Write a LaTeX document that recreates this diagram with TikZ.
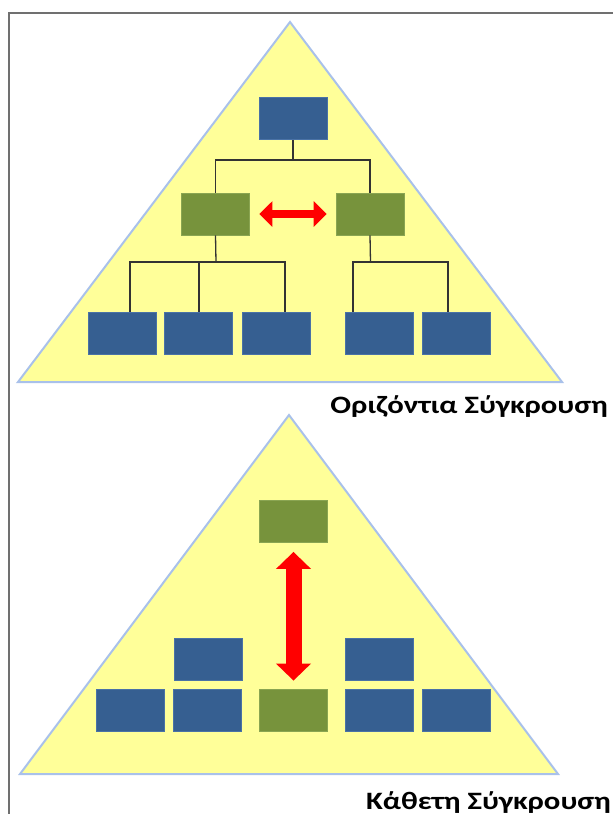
\documentclass[tikz,border=0pt]{standalone}
\usepackage{fontspec}
\setmainfont{Carlito}
\usetikzlibrary{arrows.meta}
\definecolor{pyell}{HTML}{FFFF99}
\definecolor{pedge}{HTML}{A9C1EA}
\definecolor{bblue}{HTML}{365F91}
\definecolor{bblueE}{HTML}{4A72A6}
\definecolor{bgreen}{HTML}{77933C}
\definecolor{bgreenE}{HTML}{8AA552}
\definecolor{frameg}{HTML}{707070}
\tikzset{
  pyr/.style={fill=pyell, draw=pedge, line width=2pt, line join=miter},
  bluebox/.style={rectangle, fill=bblue, draw=bblueE, line width=0.8pt, inner sep=0pt, minimum width=68pt, minimum height=42pt},
  greenbox/.style={rectangle, fill=bgreen, draw=bgreenE, line width=0.8pt, inner sep=0pt, minimum width=68pt, minimum height=42pt},
  link/.style={draw=black!80, line width=1.3pt},
  harrow/.style={draw=red, line width=8pt, {Triangle[width=25pt,length=13pt]}-{Triangle[width=25pt,length=13pt]}},
  varrow/.style={draw=red, line width=16pt, {Triangle[width=34pt,length=17pt]}-{Triangle[width=34pt,length=17pt]}},
  lbl/.style={anchor=base east, font=\bfseries\fontsize{25}{29}\selectfont, inner sep=0pt}
}
\begin{document}
\begin{tikzpicture}[x=1pt,y=-1pt]
\useasboundingbox (0,0) rectangle (613,814);
% frame
\draw[frameg, line width=2pt] (9,840) -- (9,13) -- (640,13);
% top pyramid
\fill[pyr] (290,22) -- (562,382) -- (18,382) -- cycle;
\node[bluebox] (top) at (293,118.5) {};
\node[greenbox] (gL) at (215.5,214) {};
\node[greenbox] (gR) at (370,214) {};
\node[bluebox] (b1) at (122,333.5) {};
\node[bluebox] (b2) at (198,333.5) {};
\node[bluebox] (b3) at (276,333.5) {};
\node[bluebox] (b4) at (379,333.5) {};
\node[bluebox] (b5) at (456,333.5) {};
\coordinate (j1) at (293,160);
\coordinate (j2) at (216,262);
\coordinate (j3) at (370.5,262);
\draw[link] (top.south) -- (j1);
\draw[link] (gL.north) |- (j1) -| (gR.north);
\draw[link] (gL.south) -- (j2);
\draw[link] ([xshift=8pt]b1.north) |- (j2) -| ([xshift=9pt]b3.north);
\draw[link] ([xshift=1pt]b2.north) -- ([xshift=1pt]b2.north |- j2);
\draw[link] (gR.south) -- (j3);
\draw[link] ([xshift=-26pt]b4.north) |- (j3) -| ([xshift=-8pt]b5.north);
\draw[harrow] ([xshift=9.5pt]gL.east) -- ([xshift=-9pt]gR.west);
\node[lbl] (l1) at (608,413) {\scalebox{1.23}[1]{Οριζόντια Σύγκρουση}};
% bottom pyramid
\fill[pyr] (289,415) -- (558,774) -- (20,774) -- cycle;
\node[greenbox] (gT) at (293.5,521.5) {};
\node[bluebox] (u1) at (208,659) {};
\node[bluebox] (u2) at (379.5,659) {};
\node[bluebox] (c1) at (130,710) {};
\node[bluebox] (c2) at (207.5,710) {};
\node[greenbox] (gB) at (293.5,710) {};
\node[bluebox] (c4) at (379.5,710) {};
\node[bluebox] (c5) at (456,710) {};
\draw[varrow] ([yshift=-9pt]gT.south) -- ([yshift=8pt]gB.north);
\node[lbl] (l2) at (611,809) {\scalebox{1.23}[1]{Κάθετη Σύγκρουση}};
\end{tikzpicture}
\end{document}
